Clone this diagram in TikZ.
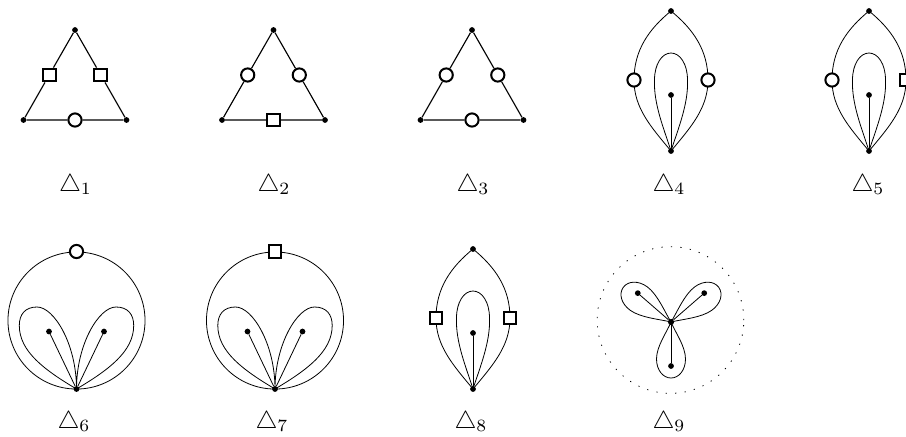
\documentclass[tikz,border=0pt]{standalone}
\tikzset{
  every picture/.style={x=0.75pt,y=-0.75pt},
  vdot/.style={circle,fill=black,inner sep=0pt,minimum size=4.3pt},
  sqm/.style={rectangle,draw=black,fill=white,line width=1.5pt,inner sep=0pt,minimum size=9.6pt},
  circm/.style={circle,draw=black,fill=white,line width=1.5pt,inner sep=0pt,minimum size=9.9pt},
  edge/.style={line width=0.85pt},
  curve/.style={line width=0.6pt},
  lab/.style={anchor=base,inner sep=0pt,transform shape=false,scale=1.85},
}
% triangle graph: prefix, left marker, right marker, bottom marker
\newcommand\trigraph[4]{%
  \node[vdot] (#1t) at (0,0) {};
  \node[vdot] (#1l) at (-51.5,90) {};
  \node[vdot] (#1r) at (51.5,90) {};
  \node[#2] (#1a) at (-25.8,45) {};
  \node[#3] (#1b) at (25.8,45) {};
  \node[#4] (#1c) at (0,90) {};
  \draw[edge] (#1t) -- (#1a) -- (#1l) -- (#1c) -- (#1r) -- (#1b) -- (#1t);
}
% lens graph: prefix, left marker, right marker
\newcommand\lensgraph[3]{%
  \node[vdot] (#1t) at (0,0) {};
  \node[vdot] (#1b) at (0,140) {};
  \node[vdot] (#1d) at (0,84) {};
  \coordinate (#1lc) at (-37,69);
  \coordinate (#1rc) at (37,69);
  \coordinate (#1p) at (0,42);
  \draw[curve] (#1t.center) .. controls +(-22,18) and +(0,-30) .. (#1lc)
     .. controls +(0,28) and +(-20,-24) .. (#1b.center)
     .. controls +(20,-24) and +(0,28) .. (#1rc)
     .. controls +(0,-30) and +(22,18) .. (#1t.center);
  \draw[curve] (#1b.center) .. controls +(-7,-22) and +(-1,24) .. (-16.5,69)
     .. controls +(0,-16) and +(-9,0) .. (#1p)
     .. controls +(9,0) and +(0,-16) .. (16.5,69)
     .. controls +(1,24) and +(7,-22) .. (#1b.center);
  \draw[curve] (#1b) -- (#1d);
  \node[#2] (#1l) at (#1lc) {};
  \node[#3] (#1r) at (#1rc) {};
}
% circle graph: prefix, top marker
\newcommand\ringgraph[2]{%
  \node[circle,draw=black,line width=0.6pt,inner sep=0pt,minimum size=102.8pt] (#1c) at (0,0) {};
  \node[vdot] (#1b) at (0,68.5) {};
  \node[vdot] (#1d) at (-27.5,11) {};
  \node[vdot] (#1e) at (27.5,11) {};
  \node[#2] (#1m) at (0,-69) {};
  \coordinate (#1p) at (-39.5,-13.5);
  \coordinate (#1q) at (39.5,-13.5);
  \draw[curve] (#1b.center) .. controls +(0,-45) and +(17,0) .. (#1p)
     .. controls +(-12,0) and +(0,-11) .. (-57.2,5)
     .. controls +(0,26) and +(-32,-19) .. (#1b.center)
     .. controls +(32,-19) and +(0,26) .. (57.2,5)
     .. controls +(0,-11) and +(12,0) .. (#1q)
     .. controls +(-17,0) and +(0,-45) .. (#1b.center);
  \draw[curve] (#1b) -- (#1d);
  \draw[curve] (#1b) -- (#1e);
}
% one petal of the last graph: prefix, dot rotation, outline rotation, length
\newcommand\petal[4]{%
  \begin{scope}[rotate=#2]
    \node[vdot] (#1d) at (0,44) {};
    \draw[curve] (nc) -- (#1d);
  \end{scope}
  \begin{scope}[rotate=#3]
    \coordinate (#1p) at (0,#4);
    \draw[curve] (nc.center) .. controls +(-4,10) and +(0,-13) .. (-14.5,#4-19)
      .. controls +(0,11) and +(-8,0) .. (#1p)
      .. controls +(8,0) and +(0,11) .. (14.5,#4-19)
      .. controls +(0,-13) and +(4,10) .. (nc.center);
  \end{scope}
}
\begin{document}
\begin{tikzpicture}
\useasboundingbox (0,0) rectangle (906,436);
\begin{scope}[shift={(75,30)}]\trigraph{a}{sqm}{sqm}{circm}\end{scope}
\begin{scope}[shift={(273.5,30)}]\trigraph{b}{circm}{circm}{sqm}\end{scope}
\begin{scope}[shift={(472,30)}]\trigraph{c}{circm}{circm}{circm}\end{scope}
\begin{scope}[shift={(671,11)}]\lensgraph{d}{circm}{circm}\end{scope}
\begin{scope}[shift={(869,11)}]\lensgraph{e}{circm}{sqm}\end{scope}
\begin{scope}[shift={(473,249)}]\lensgraph{h}{sqm}{sqm}\end{scope}
\begin{scope}[shift={(76.5,320.5)}]\ringgraph{f}{circm}\end{scope}
\begin{scope}[shift={(275,320.5)}]\ringgraph{g}{sqm}\end{scope}
\node[circle,draw=black,line width=0.6pt,dash pattern=on 0.9pt off 6.2pt,inner sep=0pt,minimum size=110pt] (dc) at (670.5,320) {};
\node[vdot,minimum size=4.6pt] (nc) at (671,322) {};
\begin{scope}[shift={(671,322)}]
  \petal{ia}{0}{0}{56}
  \petal{ib}{131}{126}{59}
  \petal{ic}{-131}{-126}{59}
\end{scope}
\node[lab] (l1) at (75.5,191) {$\triangle_1$};
\node[lab] (l2) at (274,191) {$\triangle_2$};
\node[lab] (l3) at (473,191) {$\triangle_3$};
\node[lab] (l4) at (669,191) {$\triangle_4$};
\node[lab] (l5) at (868,191) {$\triangle_5$};
\node[lab] (l6) at (74,428) {$\triangle_6$};
\node[lab] (l7) at (272,428) {$\triangle_7$};
\node[lab] (l8) at (471,428) {$\triangle_8$};
\node[lab] (l9) at (669,428) {$\triangle_9$};
\end{tikzpicture}
\end{document}
